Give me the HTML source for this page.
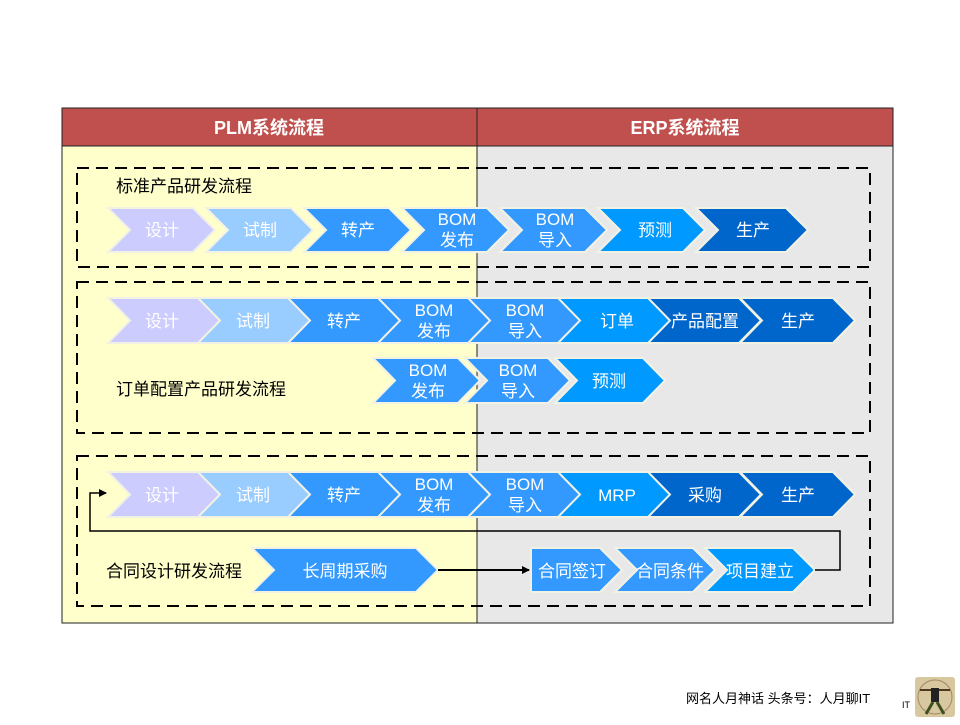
<!DOCTYPE html>
<html><head><meta charset="utf-8"><style>
body{margin:0;background:#fff;}
svg text{font-family:"Liberation Sans","Noto Sans CJK SC",sans-serif;}
</style></head><body>
<svg width="960" height="720" viewBox="0 0 960 720" xmlns="http://www.w3.org/2000/svg">
<defs>
<marker id="ah" markerWidth="8" markerHeight="8" refX="7" refY="4" orient="auto" markerUnits="userSpaceOnUse"><path d="M0,0 L8,4 L0,8 z" fill="#000"/></marker>
</defs>
<rect x="62" y="146" width="415" height="477" fill="#ffffcc"/>
<rect x="477" y="146" width="416" height="477" fill="#e8e8e8"/>
<rect x="62" y="108" width="831" height="38" fill="#c0504d" stroke="#222" stroke-width="1"/>
<rect x="62" y="108" width="831" height="515" fill="none" stroke="#222" stroke-width="1"/>
<line x1="477" y1="108" x2="477" y2="623" stroke="#222" stroke-width="1"/>
<text x="269" y="134" fill="#fff" font-size="18" font-weight="bold" text-anchor="middle">PLM系统流程</text>
<text x="685" y="134" fill="#fff" font-size="18" font-weight="bold" text-anchor="middle">ERP系统流程</text>

<g fill="none" stroke="#000" stroke-width="2" stroke-dasharray="12,7">
<rect x="77" y="168" width="793" height="99"/>
<rect x="77" y="282" width="793" height="151"/>
<rect x="77" y="456" width="793" height="150"/>
</g>
<g font-size="17" fill="#000">
<text x="116" y="192">标准产品研发流程</text>
<text x="116" y="395">订单配置产品研发流程</text>
<text x="106" y="577">合同设计研发流程</text>
</g>

<g stroke="#f2f2e4" stroke-width="2">
<!-- row1 y208-252 -->
<polygon points="108,208 193,208 215,230 193,252 108,252 130,230" fill="#ccccff"/>
<polygon points="206,208 291,208 313,230 291,252 206,252 228,230" fill="#99ccff"/>
<polygon points="304,208 389,208 411,230 389,252 304,252 326,230" fill="#3399ff"/>
<polygon points="402,208 487,208 509,230 487,252 402,252 424,230" fill="#3399ff"/>
<polygon points="500,208 585,208 607,230 585,252 500,252 522,230" fill="#3399ff"/>
<polygon points="598,208 683,208 705,230 683,252 598,252 620,230" fill="#0099ff"/>
<polygon points="696,208 786,208 808,230 786,252 696,252 718,230" fill="#0066cc"/>
<!-- row2 y298-343 -->
<polygon points="108,298 199,298 221,320.5 199,343 108,343 130,320.5" fill="#ccccff"/>
<polygon points="198,298 289,298 311,320.5 289,343 198,343 220,320.5" fill="#99ccff"/>
<polygon points="288,298 379,298 401,320.5 379,343 288,343 310,320.5" fill="#3399ff"/>
<polygon points="378,298 469,298 491,320.5 469,343 378,343 400,320.5" fill="#3399ff"/>
<polygon points="468,298 559,298 581,320.5 559,343 468,343 490,320.5" fill="#3399ff"/>
<polygon points="558,298 649,298 671,320.5 649,343 558,343 580,320.5" fill="#0099ff"/>
<polygon points="648,298 739,298 761,320.5 739,343 648,343 670,320.5" fill="#0066cc"/>
<polygon points="740,298 833,298 855,320.5 833,343 740,343 762,320.5" fill="#0066cc"/>
<!-- row2b y358-403 -->
<polygon points="373,358 458,358 480,380.5 458,403 373,403 395,380.5" fill="#3399ff"/>
<polygon points="465,358 548,358 570,380.5 548,403 465,403 487,380.5" fill="#3399ff"/>
<polygon points="555,358 643,358 665,380.5 643,403 555,403 577,380.5" fill="#0099ff"/>
<!-- row3 y472-517 -->
<polygon points="108,472 199,472 221,494.5 199,517 108,517 130,494.5" fill="#ccccff"/>
<polygon points="198,472 289,472 311,494.5 289,517 198,517 220,494.5" fill="#99ccff"/>
<polygon points="288,472 379,472 401,494.5 379,517 288,517 310,494.5" fill="#3399ff"/>
<polygon points="378,472 469,472 491,494.5 469,517 378,517 400,494.5" fill="#3399ff"/>
<polygon points="468,472 559,472 581,494.5 559,517 468,517 490,494.5" fill="#3399ff"/>
<polygon points="558,472 649,472 671,494.5 649,517 558,517 580,494.5" fill="#0099ff"/>
<polygon points="648,472 739,472 761,494.5 739,517 648,517 670,494.5" fill="#0066cc"/>
<polygon points="740,472 833,472 855,494.5 833,517 740,517 762,494.5" fill="#0066cc"/>
<!-- row3b y548-592 -->
<polygon points="252,548 416,548 438,570 416,592 252,592 274,570" fill="#3399ff"/>
<polygon points="531,548 600,548 622,570 600,592 531,592" fill="#3399ff"/>
<polygon points="615,548 693,548 715,570 693,592 615,592 637,570" fill="#3399ff"/>
<polygon points="705,548 793,548 815,570 793,592 705,592 727,570" fill="#0099ff"/>
</g>

<g fill="none" stroke="#000" stroke-width="2">
<line x1="438" y1="570" x2="529" y2="570" marker-end="url(#ah)"/>
</g>
<polyline points="815,570 840,570 840,531 90,531 90,493 106,493" fill="none" stroke="#000" stroke-width="1.5" marker-end="url(#ah)"/>

<g fill="#fff" font-size="17" text-anchor="middle">
<text x="162" y="236">设计</text>
<text x="260" y="236">试制</text>
<text x="358" y="236">转产</text>
<text x="457" y="225">BOM</text><text x="457" y="246">发布</text>
<text x="555" y="225">BOM</text><text x="555" y="246">导入</text>
<text x="655" y="236">预测</text>
<text x="753" y="236">生产</text>

<text x="162" y="327">设计</text>
<text x="253" y="327">试制</text>
<text x="344" y="327">转产</text>
<text x="434" y="316">BOM</text><text x="434" y="337">发布</text>
<text x="525" y="316">BOM</text><text x="525" y="337">导入</text>
<text x="617" y="327">订单</text>
<text x="705" y="327">产品配置</text>
<text x="798" y="327">生产</text>

<text x="428" y="376">BOM</text><text x="428" y="397">发布</text>
<text x="518" y="376">BOM</text><text x="518" y="397">导入</text>
<text x="609" y="387">预测</text>

<text x="162" y="501">设计</text>
<text x="253" y="501">试制</text>
<text x="344" y="501">转产</text>
<text x="434" y="490">BOM</text><text x="434" y="511">发布</text>
<text x="525" y="490">BOM</text><text x="525" y="511">导入</text>
<text x="617" y="501">MRP</text>
<text x="705" y="501">采购</text>
<text x="798" y="501">生产</text>

<text x="345" y="577">长周期采购</text>
<text x="572" y="577">合同签订</text>
<text x="670" y="577">合同条件</text>
<text x="760" y="577">项目建立</text>
</g>

<text x="686" y="703" font-size="13" fill="#000">网名人月神话 头条号：人月聊IT</text>
<text x="902" y="708" font-size="9" fill="#000">IT</text>
<rect x="915" y="677" width="40" height="40" fill="#d8c8a0" rx="3"/>
<circle cx="935" cy="697" r="17" fill="none" stroke="#a08860" stroke-width="1"/>
<line x1="920" y1="690" x2="950" y2="690" stroke="#503820" stroke-width="2"/>
<rect x="931" y="688" width="8" height="14" fill="#222"/>
<line x1="933" y1="702" x2="926" y2="714" stroke="#405020" stroke-width="3"/>
<line x1="937" y1="702" x2="944" y2="714" stroke="#405020" stroke-width="3"/>
</svg>
</body></html>
